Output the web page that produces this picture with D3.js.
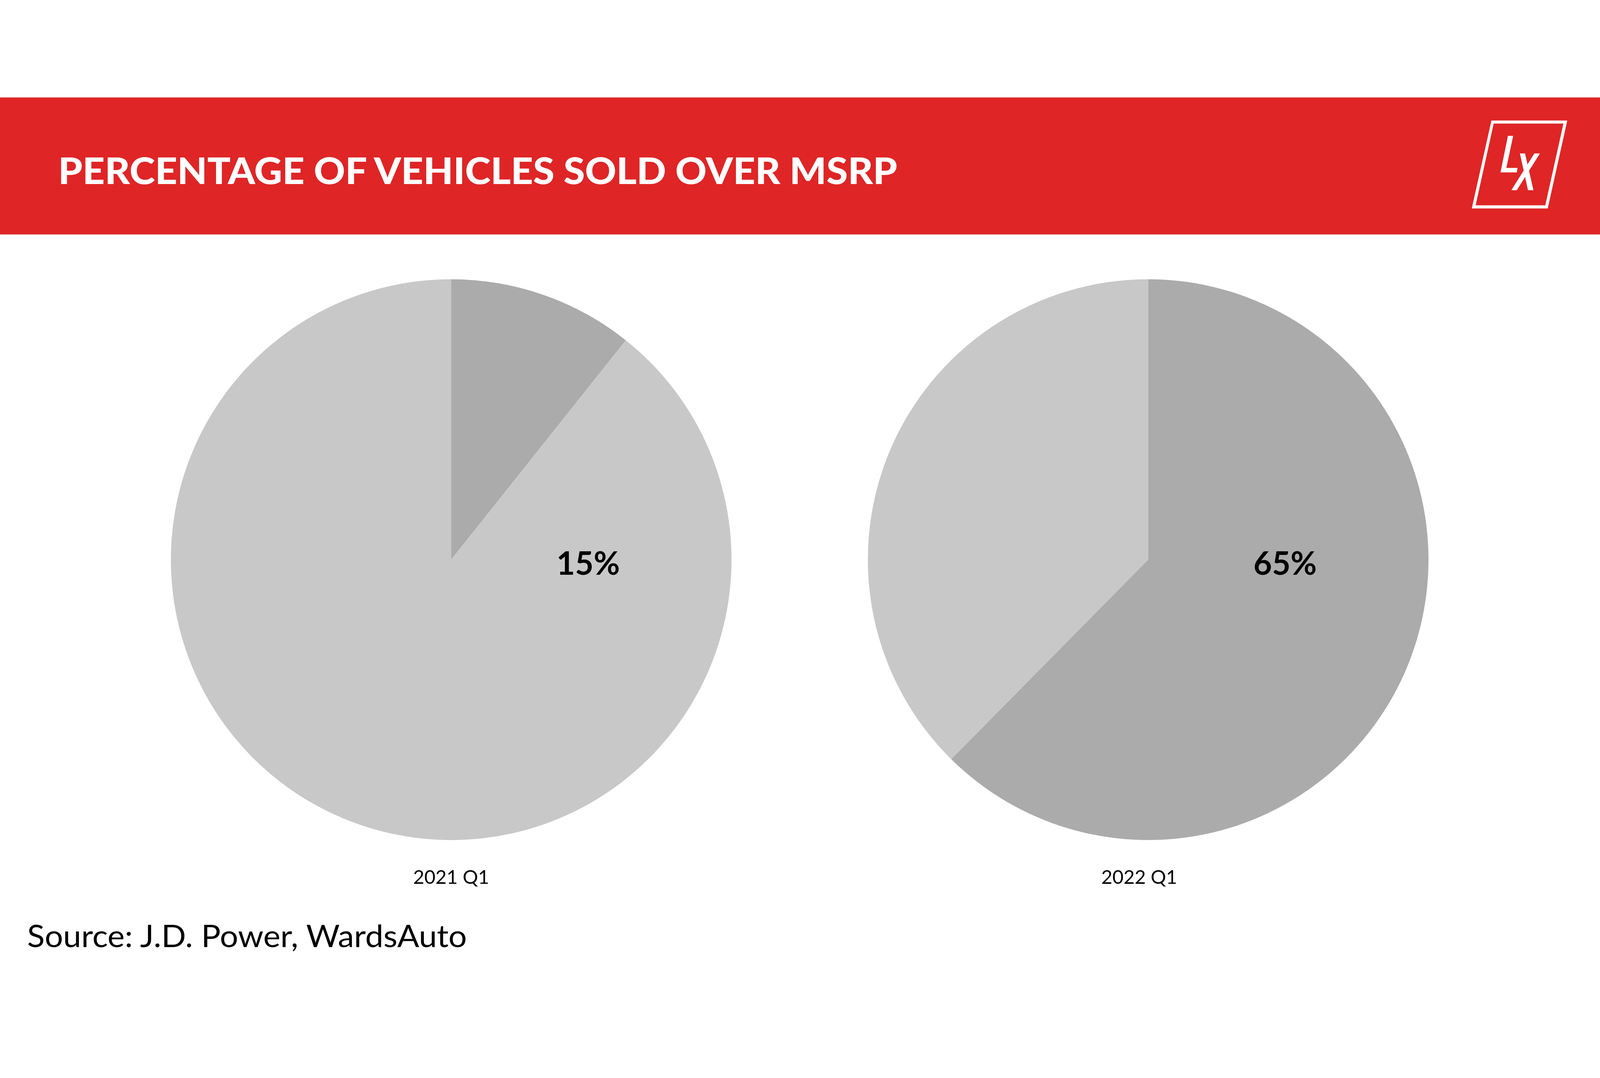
<!DOCTYPE html>
<html>
<head>
<meta charset="utf-8">
<script src="https://cdn.jsdelivr.net/npm/d3@7"></script>
<style>
  html, body { margin: 0; padding: 0; background: #ffffff; overflow: hidden; width: 100%; height: 100%; }
  svg { display: block; width: 100vw; height: 100vh; }
</style>
</head>
<body>
<script>
// ---------- data ----------
const title = "PERCENTAGE OF VEHICLES SOLD OVER MSRP";
const source = "Source: J.D. Power, WardsAuto";
const periods = ["2021 Q1", "2022 Q1"];
// share of vehicles sold over MSRP, as drawn (slice angle)
const overMSRP = [10.7, 62.4];
// remaining share
const notOverMSRP = [89.3, 37.6];
// value labels printed on the chart
const valueLabels = ["15%", "65%"];

// ---------- layout ----------
const W = 5000, H = 2759;
const svg = d3.select("body").append("svg")
  .attr("viewBox", `0 0 ${W} ${H}`)
  .attr("preserveAspectRatio", "xMidYMid meet");

svg.append("rect").attr("x", 0).attr("y", 0).attr("width", W).attr("height", H).attr("fill", "#ffffff");

// header band
svg.append("rect").attr("x", 0).attr("y", 0).attr("width", W).attr("height", 428).attr("fill", "#DF2526");
svg.append("text")
  .attr("x", 182).attr("y", 271)
  .attr("font-family", "Lato, 'Open Sans', sans-serif")
  .attr("font-weight", 900)
  .attr("font-size", 114)
  .attr("fill", "#ffffff")
  .attr("textLength", 2622)
  .attr("lengthAdjust", "spacingAndGlyphs")
  .text(title);

// logo
const logo = svg.append("g").attr("fill", "#ffffff");
logo.append("path")
  .attr("fill-rule", "evenodd")
  .attr("d", "M4660.7,72 L4897.7,72 L4836.7,346.7 L4599.3,346.7 Z M4667.7,81.7 L4885.7,81.7 L4829,337 L4611.3,337 Z");
logo.append("path")
  .attr("d", "M4712.3,120 L4728.7,120 L4707.3,220 L4742.3,220 L4740,234.3 L4689,234.3 Z");
logo.append("path")
  .attr("d", "M4749.7,175 L4765.7,175 L4792,289.7 L4775,289.7 Z");
logo.append("path")
  .attr("d", "M4795,175 L4812.3,175 L4740,289.7 L4723,289.7 Z");

// ---------- pies ----------
const xScale = d3.scalePoint().domain(periods).range([1410, 3588]);
const cy = 1444;
const radius = 876;
const color = d3.scaleOrdinal().domain(["over", "notOver"]).range(["#ABABAB", "#C8C8C8"]);

const pie = d3.pie().sort(null).value(d => d.value);
const arc = d3.arc().innerRadius(0).outerRadius(radius);

periods.forEach((p, i) => {
  const g = svg.append("g").attr("transform", `translate(${xScale(p)},${cy})`);
  const slices = pie([
    { key: "over", value: overMSRP[i] },
    { key: "notOver", value: notOverMSRP[i] }
  ]);
  g.selectAll("path")
    .data(slices)
    .join("path")
    .attr("d", arc)
    .attr("fill", d => color(d.data.key));

  g.append("text")
    .attr("x", 428)
    .attr("y", 47)
    .attr("text-anchor", "middle")
    .attr("font-family", "Lato, 'Open Sans', sans-serif")
    .attr("font-weight", 700)
    .attr("font-size", 100)
    .attr("fill", "#000000")
    .text(valueLabels[i]);

  svg.append("text")
    .attr("x", xScale(p) - (i === 1 ? 28 : 0))
    .attr("y", 2457)
    .attr("text-anchor", "middle")
    .attr("font-family", "Lato, 'Open Sans', sans-serif")
    .attr("font-weight", 400)
    .attr("font-size", 60)
    .attr("fill", "#000000")
    .text(p);
});

// source
svg.append("text")
  .attr("x", 85).attr("y", 2655)
  .attr("font-family", "Lato, 'Open Sans', sans-serif")
  .attr("font-weight", 400)
  .attr("font-size", 96)
  .attr("fill", "#000000")
  .attr("textLength", 1374)
  .attr("lengthAdjust", "spacingAndGlyphs")
  .text(source);
</script>
</body>
</html>
